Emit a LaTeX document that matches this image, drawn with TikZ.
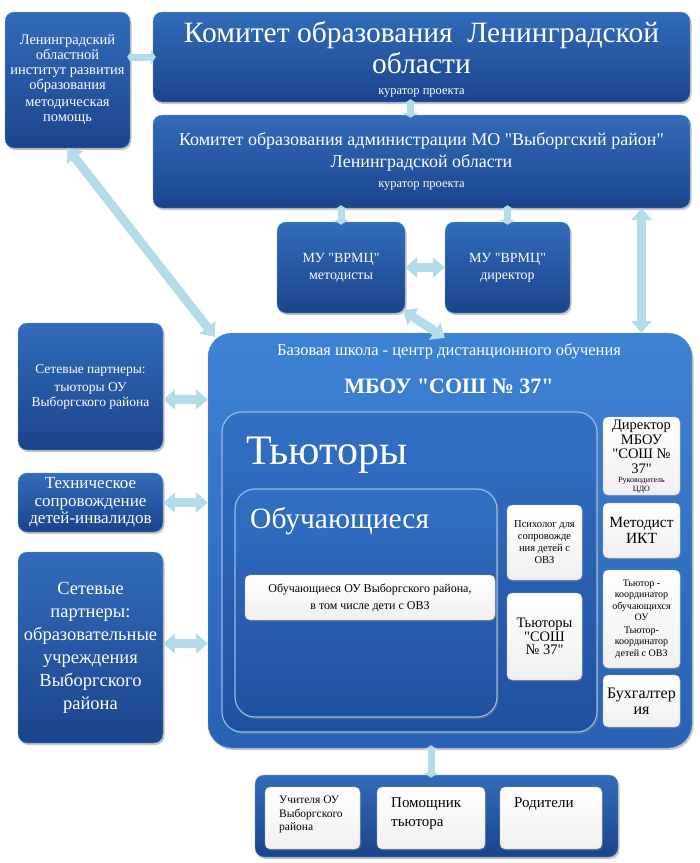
\documentclass[tikz,border=0pt]{standalone}
\usepackage{fontspec}
\setmainfont{Liberation Serif}[Ligatures=TeX]
\setsansfont{Liberation Serif}
\usetikzlibrary{arrows.meta,shadows}

\definecolor{boxtop}{RGB}{50,108,186}
\definecolor{boxbot}{RGB}{26,68,140}
\definecolor{schooltop}{RGB}{62,130,212}
\definecolor{schoolbot}{RGB}{40,98,180}
\definecolor{innertop}{RGB}{50,112,196}
\definecolor{innerbot}{RGB}{32,80,160}
\definecolor{boxline}{RGB}{110,160,215}
\definecolor{arrowfill}{RGB}{180,220,232}

\newcommand{\fs}[2]{\rmfamily\fontsize{#1}{#2}\selectfont}
% straight double quote, kept out of the tex-text mapping
\newcommand{\qq}{\XeTeXglyph\XeTeXcharglyph"22\relax}

\begin{document}
\begin{tikzpicture}[x=1pt, y=-1pt,
	blue node/.style={rectangle, rounded corners=9pt, draw=boxline, top color=boxtop, bottom color=boxbot,
		text=white, align=center, inner sep=2pt, drop shadow={opacity=0.45, shadow xshift=1.5pt, shadow yshift=-2pt}},
	school node/.style={blue node, rounded corners=24pt, top color=schooltop, bottom color=schoolbot},
	inner node/.style={blue node, rounded corners=20pt, draw=white!45!schooltop, line width=1.2pt, top color=innertop, bottom color=innerbot},
	white node/.style={rectangle, rounded corners=5pt, draw=gray!50, top color=white, bottom color=gray!12,
		text=black, align=center, inner sep=1pt, drop shadow={opacity=0.35, shadow xshift=1pt, shadow yshift=-1.5pt}},
	title node/.style={text=white, align=center, inner sep=0pt},
	conn/.style={line width=9pt, draw=arrowfill, {Triangle[width=20pt,length=12pt]}-{Triangle[width=20pt,length=12pt]}},
	short conn/.style={line width=7pt, draw=arrowfill, {Triangle[width=15pt,length=5pt]}-{Triangle[width=15pt,length=5pt]}, shorten <=-3pt, shorten >=-3pt}]
	
	\useasboundingbox (0,0) rectangle (700,863);
	
	% top row
	\node[blue node, minimum width=125pt, minimum height=136pt, font=\fs{14.5}{15}] (inst) at (67.5,80)
		{Ленинградский\\областной\\институт развития\\образования\\[2pt]методическая\\помощь};
	\node[blue node, minimum width=537pt, minimum height=90pt] (kom) at (421.5,57) {};
	\node[title node, font=\fs{29.5}{31}] (komtext) at (421.5,48) {Комитет образования\ \ Ленинградской\\области};
	\node[title node, font=\fs{12.5}{14}] (komcur) at (421.5,93) {куратор проекта};
	\node[blue node, minimum width=537pt, minimum height=93pt] (komvyb) at (421.5,161.5) {};
	\node[title node, font=\fs{18}{22}] (komvybtext) at (421.5,152) {Комитет образования администрации МО \qq Выборгский район\qq\\Ленинградской области};
	\node[title node, font=\fs{12.5}{14}] (komvybcur) at (421.5,186) {куратор проекта};
	\node[blue node, minimum width=128pt, minimum height=91pt, font=\fs{14}{17}] (vrmcm) at (341,267.5) {МУ \qq ВРМЦ\qq\\методисты};
	\node[blue node, minimum width=125pt, minimum height=91pt, font=\fs{14}{17}] (vrmcd) at (507.5,267.5) {МУ \qq ВРМЦ\qq\\директор};
	
	% left column
	\node[blue node, minimum width=145pt, minimum height=127pt, font=\fs{13.5}{15}] (net1) at (90.5,386.5)
		{Сетевые партнеры:\\[3pt]тьюторы ОУ\\Выборгского района};
	\node[blue node, minimum width=145pt, minimum height=59pt, font=\fs{17}{17.5}] (tech) at (90.5,502.5)
		{Техническое\\сопровождение\\детей-инвалидов};
	\node[blue node, minimum width=145pt, minimum height=191pt, font=\fs{18.5}{23}] (net2) at (90.5,647.5)
		{Сетевые\\партнеры:\\образовательные\\учреждения\\Выборгского\\района};
	
	% base school
	\node[school node, minimum width=484pt, minimum height=415pt] (school) at (450,540.5) {};
	\node[title node, font=\fs{16.5}{18}] (schooltitle) at (449,351) {Базовая школа - центр дистанционного обучения};
	\node[title node, font=\fs{22}{24}\bfseries] (schoolname) at (449,386) {МБОУ \qq СОШ № 37\qq};
	
	\node[inner node, minimum width=375pt, minimum height=320pt] (tutors) at (409.5,572) {};
	\node[title node, anchor=west, font=\fs{42}{44}] (tutorstitle) at (246,455) {Тьюторы};
	\node[inner node, minimum width=262pt, minimum height=228pt] (pupils) at (366,603) {};
	\node[title node, anchor=west, font=\fs{29.5}{31}] (pupilstitle) at (250,521) {Обучающиеся};
	\node[white node, minimum width=250pt, minimum height=45pt, font=\fs{12}{17}] (pupilsov) at (370,597.5)
		{Обучающиеся ОУ Выборгского района,\\в том числе дети с ОВЗ};
	
	\node[white node, minimum width=75pt, minimum height=75pt, font=\fs{10.5}{12}] (psych) at (544.5,542.5)
		{Психолог для\\сопровожде\\ния детей с\\ОВЗ};
	\node[white node, minimum width=75pt, minimum height=87pt, font=\fs{14.5}{13.5}] (tut37) at (544.5,636.5)
		{Тьюторы\\\qq СОШ\\№ 37\qq};
	
	% right column
	\node[white node, minimum width=77pt, minimum height=78pt] (dir) at (641.5,456) {};
	\node[inner sep=0pt, align=center, font=\fs{14.5}{14.5}] (dirtext) at (641.5,447) {Директор\\МБОУ\\\qq СОШ №\\37\qq};
	\node[inner sep=0pt, align=center, font=\fs{8}{8.5}] (dirsub) at (641.5,485) {Руководитель\\ЦДО};
	\node[white node, minimum width=77pt, minimum height=55pt, font=\fs{15.5}{15.5}] (metikt) at (641.5,530.5)
		{Методист\\ИКТ};
	\node[white node, minimum width=77pt, minimum height=98pt, font=\fs{10}{11.5}] (coord) at (641.5,619)
		{Тьютор -\\координатор\\обучающихся\\ОУ\\[1pt]Тьютор-\\координатор\\детей с ОВЗ};
	\node[white node, minimum width=77pt, minimum height=52pt, font=\fs{16}{16}] (buh) at (641.5,701)
		{Бухгалтер\\ия};
	
	% bottom row
	\node[blue node, minimum width=363pt, minimum height=82pt] (bottom) at (436.5,816) {};
	\node[white node, minimum width=95pt, minimum height=62pt] (teach) at (312.5,818) {};
	\node[white node, minimum width=108pt, minimum height=62pt] (helper) at (431,818) {};
	\node[white node, minimum width=102pt, minimum height=62pt] (parents) at (551,818) {};
	\node[anchor=north west, align=left, inner sep=0pt, font=\fs{11.5}{13.5}] (teachtext) at (279,796)
		{Учителя ОУ\\Выборгского\\района};
	\node[anchor=north west, align=left, inner sep=0pt, font=\fs{15}{19}] (helpertext) at (391,797)
		{Помощник\\тьютора};
	\node[anchor=north west, align=left, inner sep=0pt, font=\fs{15}{19}] (parentstext) at (514,797)
		{Родители};
	
	% connections
	\draw[short conn] (inst.east |- kom.west) -- (kom.west);
	\draw[short conn] ([xshift=-11pt]kom.south) -- ([xshift=-11pt]komvyb.north);
	\draw[short conn] (vrmcm.north |- komvyb.south) -- (vrmcm.north);
	\draw[short conn] (vrmcd.north |- komvyb.south) -- (vrmcd.north);
	\draw[conn] (vrmcm.east) -- (vrmcd.west);
	\draw[conn] ([xshift=-2pt,yshift=3pt]vrmcm.south east) -- ([yshift=-5pt]school.north -| vrmcd.west);
	\draw[conn] (dir.north |- komvyb.south) -- (dir.north |- school.north);
	\draw[conn] (inst.south) -- ([xshift=7pt,yshift=-4pt]school.north west);
	\draw[conn] ([yshift=-13pt]net1.east) -- ([yshift=-13pt]net1.east -| school.west);
	\draw[conn] (tech.east) -- (tech.east -| school.west);
	\draw[conn] ([yshift=4pt]net2.east) -- ([yshift=4pt]net2.east -| school.west);
	\draw[short conn] (school.south -| helper.north) -- (helper.north |- bottom.north);
	
\end{tikzpicture}
\end{document}
